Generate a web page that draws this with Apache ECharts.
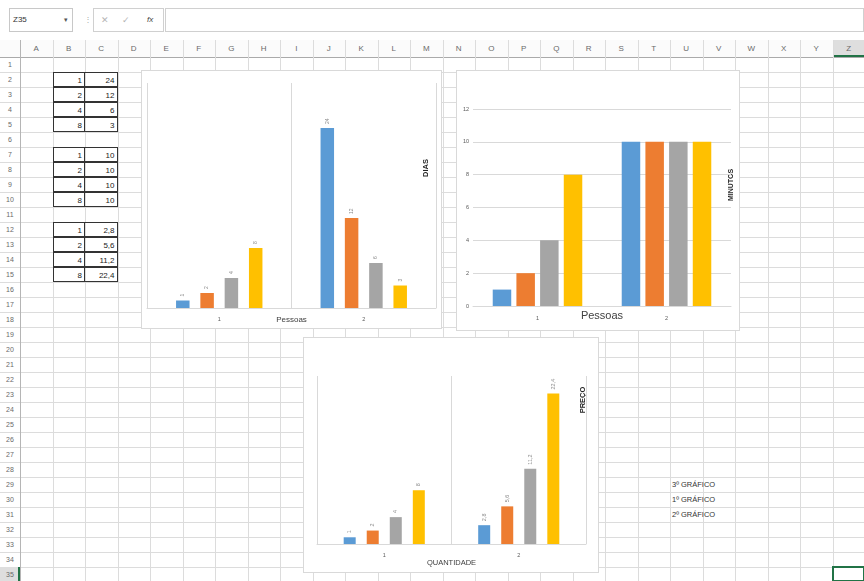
<!DOCTYPE html>
<html>
<head>
<meta charset="utf-8">
<script src="https://cdn.jsdelivr.net/npm/echarts@6/dist/echarts.min.js"></script>
<style>
  html, body { margin: 0; padding: 0; width: 864px; height: 581px; overflow: hidden; background: #fff;
    font-family: "Liberation Sans Narrow", "Liberation Sans", Arial, sans-serif; }
  .abs { position: absolute; }
  .vline { position: absolute; width: 1px; background: #dcdcdc; }
  .hline { position: absolute; height: 1px; background: #dcdcdc; }
  .colhead { position: absolute; top: 40px; height: 17px; line-height: 17px; text-align: center;
    font-size: 8px; color: #6a6a6a; }
  .rowhead { position: absolute; left: 0; width: 20px; height: 15px; line-height: 15px; text-align: center;
    font-size: 7px; color: #6a6a6a; }
  .cell { position: absolute; height: 15px; line-height: 16px; font-size: 8px; color: #222;
    box-sizing: border-box; padding: 0 2px; white-space: nowrap; }
  .chart { position: absolute; background: #fff; box-shadow: 0 0 0 1px #d9d9d9; }
</style>
</head>
<body>
<div id="sheet" class="abs" style="left:0;top:0;width:864px;height:581px;"></div>
<div id="chartDias" class="chart" style="left:142px;top:71px;width:299px;height:257px;"></div>
<div id="chartMinutos" class="chart" style="left:457px;top:71px;width:282px;height:259px;"></div>
<div id="chartPreco" class="chart" style="left:304px;top:338px;width:294px;height:234px;"></div>
<script>
// ---- worksheet data ----
const pessoas = [1, 2, 4, 8];
const dias = [24, 12, 6, 3];
const minutos = [10, 10, 10, 10];
const quantidade = [1, 2, 4, 8];
const preco = [2.8, 5.6, 11.2, 22.4];
const categorias = ['1', '2'];
const notas = ['3º GRÁFICO', '1º GRÁFICO', '2º GRÁFICO'];
const colunas = 'ABCDEFGHIJKLMNOPQRSTUVWXYZ'.split('');
const totalLinhas = 35;
const cores = ['#5B9BD5', '#ED7D31', '#A5A5A5', '#FFC000'];

// ---- worksheet layout ----
const colW = 32.5, rowH = 15, left0 = 20, top0 = 57;
const sheet = document.getElementById('sheet');
function add(cls, css, text) {
  const d = document.createElement('div');
  d.className = cls;
  Object.assign(d.style, css);
  if (text !== undefined) d.textContent = text;
  sheet.appendChild(d);
  return d;
}
const colX = i => left0 + i * colW;
const rowY = r => top0 + (r - 1) * rowH;

// formula bar
add('abs', { left: '9px', top: '8px', width: '64px', height: '24px', border: '1px solid #c8c8c8', boxSizing: 'border-box' });
add('abs', { left: '13px', top: '8px', height: '24px', lineHeight: '24px', fontSize: '8px', color: '#333' }, 'Z35');
add('abs', { left: '64px', top: '8px', height: '24px', lineHeight: '24px', fontSize: '7px', color: '#555' }, '▾');
add('abs', { left: '84px', top: '8px', height: '24px', lineHeight: '24px', fontSize: '8px', color: '#aaa' }, '⋮');
add('abs', { left: '93px', top: '8px', width: '71px', height: '24px', border: '1px solid #d0d0d0', boxSizing: 'border-box' });
add('abs', { left: '101px', top: '8px', height: '24px', lineHeight: '24px', fontSize: '9px', color: '#b5b5b5' }, '✕');
add('abs', { left: '122px', top: '8px', height: '24px', lineHeight: '24px', fontSize: '9px', color: '#b5b5b5' }, '✓');
add('abs', { left: '147px', top: '8px', height: '24px', lineHeight: '24px', fontSize: '8px', color: '#444', fontStyle: 'italic' }, 'fx');
add('abs', { left: '165px', top: '8px', width: '699px', height: '24px', border: '1px solid #d0d0d0', boxSizing: 'border-box' });

// column headers
add('abs', { left: '0px', top: '40px', width: '864px', height: '17px', background: '#fbfbfb' });
add('abs', { left: colX(25) + 'px', top: '40px', width: colW + 'px', height: '17px', background: '#dedede' });
colunas.forEach((c, i) => add('colhead', { left: colX(i) + 'px', width: colW + 'px' }, c));
add('hline', { left: '0px', top: '57px', width: '864px', background: '#aaaaaa' });
add('abs', { left: colX(25) + 'px', top: '55px', width: colW + 'px', height: '2px', background: '#217346' });

// grid lines
for (let i = 0; i <= colunas.length; i++) {
  add('vline', { left: Math.round(colX(i)) + 'px', top: '40px', height: (581 - 40) + 'px' });
}
for (let r = 1; r <= totalLinhas; r++) {
  add('hline', { left: '0px', top: (rowY(r) + rowH) + 'px', width: '864px' });
}
add('vline', { left: '20px', top: '40px', height: '541px', background: '#b5b5b5' });

// row headers
add('abs', { left: '0px', top: rowY(totalLinhas) + 'px', width: '20px', height: '15px', background: '#dedede' });
add('abs', { left: '18px', top: rowY(totalLinhas) + 'px', width: '2px', height: '15px', background: '#217346' });
for (let r = 1; r <= totalLinhas; r++) {
  add('rowhead', { top: rowY(r) + 'px' }, String(r));
}
// selected cell Z35
add('abs', { left: (colX(25) - 1) + 'px', top: (rowY(totalLinhas) - 1) + 'px', width: (colW + 1) + 'px', height: '16px',
  border: '2px solid #217346', boxSizing: 'border-box' });

// data tables in B:C
function tabela(primeiraLinha, colB, colC, fmt) {
  colB.forEach((v, k) => {
    const y = rowY(primeiraLinha + k);
    add('cell', { left: colX(1) + 'px', top: y + 'px', width: colW + 'px', textAlign: 'right',
      border: '1px solid #333' }, String(v));
    add('cell', { left: (colX(2) - 1) + 'px', top: y + 'px', width: (colW + 1) + 'px', textAlign: 'right',
      border: '1px solid #333' }, fmt(colC[k]));
  });
}
const virgula = v => String(v).replace('.', ',');
tabela(2, pessoas, dias, virgula);
tabela(7, pessoas, minutos, virgula);
tabela(12, quantidade, preco, virgula);

// notes in column U
notas.forEach((t, k) => add('cell', { left: colX(20) + 'px', top: rowY(29 + k) + 'px', fontSize: '7.5px', color: '#333' }, t));

// ---- charts ----
function seriesDe(colB, colC, comRotulo, labelSize, barWidth, barGap) {
  return colB.map((v, k) => ({
    type: 'bar',
    data: [colB[k], colC[k]],
    barWidth: barWidth,
    barGap: barGap,
    itemStyle: { color: cores[k] },
    label: {
      show: comRotulo, position: 'top', rotate: 90, align: 'left', verticalAlign: 'middle',
      distance: 4, fontSize: labelSize, color: '#8c8c8c',
      formatter: p => virgula(p.value)
    },
    animation: false
  }));
}
function tituloVertical(x, y, texto, size) {
  return {
    type: 'text', x: x, y: y, rotation: Math.PI / 2,
    style: { text: texto, align: 'center', verticalAlign: 'middle',
      font: 'bold ' + size + 'px "Liberation Sans", Arial, sans-serif', fill: '#262626' }
  };
}
const eixoCategoria = (nome, nameSize, nameGap, grade, labelMargin) => ({
  type: 'category', data: categorias,
  axisLine: { lineStyle: { color: '#d9d9d9' } },
  axisTick: { show: false },
  axisLabel: { fontSize: 5.5, color: '#595959', margin: labelMargin },
  splitLine: { show: grade, lineStyle: { color: '#d9d9d9' } },
  name: nome, nameLocation: 'middle', nameGap: nameGap, nameMoveOverlap: false,
  nameTextStyle: { fontSize: nameSize, color: '#404040', verticalAlign: 'top' }
});

// Chart 1: dias x pessoas
echarts.init(document.getElementById('chartDias')).setOption({
  animation: false,
  grid: { left: 5, right: 5, top: 12, bottom: 20, outerBoundsMode: 'none' },
  xAxis: eixoCategoria('Pessoas', 8, 8, true, 8),
  yAxis: { type: 'value', min: 0, max: 30, show: false },
  series: seriesDe(pessoas, dias, true, 5, 13.5, '80%'),
  graphic: [tituloVertical(284, 97, 'DIAS', 7.5)]
});

// Chart 2: minutos x pessoas
echarts.init(document.getElementById('chartMinutos')).setOption({
  animation: false,
  grid: { left: 16, right: 8, top: 38, bottom: 24, outerBoundsMode: 'none' },
  xAxis: eixoCategoria('Pessoas', 11, 4, false, 9),
  yAxis: {
    type: 'value', min: 0, max: 12, interval: 2,
    axisLine: { show: false }, axisTick: { show: false },
    axisLabel: { fontSize: 5.5, color: '#595959', margin: 4 },
    splitLine: { lineStyle: { color: '#d9d9d9' } }
  },
  series: seriesDe(pessoas, minutos, false, 5, 18.5, '28%'),
  graphic: [tituloVertical(274, 114, 'MINUTOS', 7)]
});

// Chart 3: preço x quantidade
echarts.init(document.getElementById('chartPreco')).setOption({
  animation: false,
  grid: { left: 13, right: 12, top: 38, bottom: 28, outerBoundsMode: 'none' },
  xAxis: eixoCategoria('QUANTIDADE', 7.5, 15, true, 8),
  yAxis: { type: 'value', min: 0, max: 25, show: false },
  series: seriesDe(quantidade, preco, true, 5.5, 12, '92%'),
  graphic: [tituloVertical(279, 62, 'PREÇO', 7.5)]
});
</script>
</body>
</html>
